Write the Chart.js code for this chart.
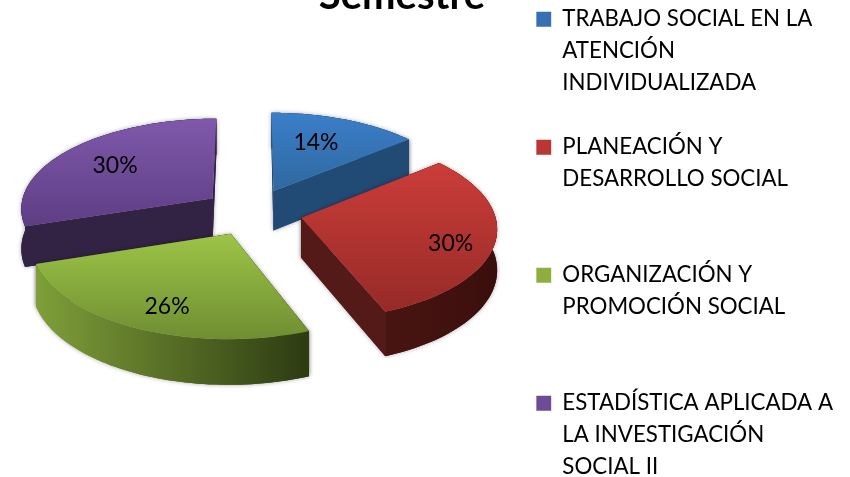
<!DOCTYPE html>
<html><head><meta charset="utf-8">
<style>html,body{margin:0;padding:0;width:850px;height:477px;overflow:hidden;background:#fff}
#wrap{position:absolute;left:-39px;top:-28px;width:889px;height:570px}</style>
<script src="https://cdn.jsdelivr.net/npm/chart.js@4"></script></head>
<body><div id="wrap"><canvas id="c" width="889" height="570"></canvas></div>
<script>
const titleText = 'Semestre';
const categories = ['TRABAJO SOCIAL EN LA ATENCIÓN INDIVIDUALIZADA','PLANEACIÓN Y DESARROLLO SOCIAL','ORGANIZACIÓN Y PROMOCIÓN SOCIAL','ESTADÍSTICA APLICADA A LA INVESTIGACIÓN SOCIAL II'];
const legendLines = [['TRABAJO SOCIAL EN LA','ATENCIÓN','INDIVIDUALIZADA',''],['PLANEACIÓN Y','DESARROLLO SOCIAL','',''],['ORGANIZACIÓN Y','PROMOCIÓN SOCIAL','',''],['ESTADÍSTICA APLICADA A','LA INVESTIGACIÓN','SOCIAL II','']];
const values = [14,30,26,30];
const percentLabels = ['14%','30%','26%','30%'];
const labelRadius = [0.65,0.79,0.77,0.67];
const labelTurn = [-3,6,-3,0];
const baseColors = ['#3670B2','#B93634','#8CAF3F','#6E4B96'];
const topGrad = [['#3B7EC9','#2F689F'],['#CB3D39','#962A27'],['#9DC447','#6F8E32'],['#8058AB','#5D3E84']];
const wallGrad = [['#214A75','#214A75'],['#541A17','#3A0E0C'],['#7F9F39','#2D3B12'],['#322244','#322244']];
const innerWall = ['#214A75','#541A17','#3A4A18','#322244'];
const drawOrder = [3,0,2,1];
const tilt = 0.468, persp = 0.1, depth = 40, shiftX = 4, shiftY = -63;

function project(cx, cy, R, U, V, z){
  const w = 1 - persp*V;
  return [cx + shiftX + R*U/w, cy + shiftY + R*tilt*V/w + z/w];
}
const pie3d = {
  id:'pie3d',
  beforeDatasetsDraw(chart){
    const ctx = chart.ctx, arcs = chart.getDatasetMeta(0).data;
    drawOrder.forEach(i=>{
      const a = arcs[i], R = a.outerRadius, e = a.options.offset/R;
      const mid = (a.startAngle+a.endAngle)/2;
      const ox = e*Math.cos(mid), oy = e*Math.sin(mid);
      const P = (f,ang,z)=>project(a.x,a.y,R,ox+f*Math.cos(ang),oy+f*Math.sin(ang),z);
      const n = 60, top=[], bot=[];
      for(let k=0;k<=n;k++){const t=a.startAngle+(a.endAngle-a.startAngle)*k/n; top.push(P(1,t,0)); bot.push(P(1,t,depth));}
      const apex=P(0,0,0), apexB=P(0,0,depth);
      const xs=top.concat([apex]).map(p=>p[0]), ys=top.concat([apex]).map(p=>p[1]);
      const wg=ctx.createLinearGradient(Math.min(...xs),0,Math.max(...xs),0);
      wg.addColorStop(0,wallGrad[i][0]); wg.addColorStop(1,wallGrad[i][1]);
      const walls=()=>{
        ctx.fillStyle=innerWall[i];
        [[top[0],bot[0]],[top[n],bot[n]]].forEach(([p,q])=>{
          ctx.beginPath(); ctx.moveTo(apex[0],apex[1]); ctx.lineTo(p[0],p[1]); ctx.lineTo(q[0],q[1]); ctx.lineTo(apexB[0],apexB[1]); ctx.closePath(); ctx.fill();
        });
        ctx.fillStyle=wg; ctx.beginPath();
        top.forEach((p,k)=>k?ctx.lineTo(p[0],p[1]):ctx.moveTo(p[0],p[1]));
        bot.slice().reverse().forEach(p=>ctx.lineTo(p[0],p[1]));
        ctx.closePath(); ctx.fill();
      };
      ctx.save();
      ctx.shadowColor='rgba(0,0,0,0.35)'; ctx.shadowBlur=4;
      walls();
      ctx.restore();
      walls();
      const tg=ctx.createLinearGradient(0,Math.min(...ys),0,Math.max(...ys));
      tg.addColorStop(0,topGrad[i][0]); tg.addColorStop(1,topGrad[i][1]);
      ctx.fillStyle=tg; ctx.beginPath(); ctx.moveTo(apex[0],apex[1]);
      top.forEach(p=>ctx.lineTo(p[0],p[1])); ctx.closePath(); ctx.fill();
    });
    ctx.save();
    ctx.fillStyle='#000'; ctx.font='23px Lato'; ctx.textAlign='center'; ctx.textBaseline='middle';
    arcs.forEach((a,i)=>{
      const R=a.outerRadius,e=a.options.offset/R,mid=(a.startAngle+a.endAngle)/2,f=labelRadius[i];
      const lab=mid+labelTurn[i]*Math.PI/180;
      const p=project(a.x,a.y,R,e*Math.cos(mid)+f*Math.cos(lab),e*Math.sin(mid)+f*Math.sin(lab),0);
      ctx.fillText(percentLabels[i],p[0],p[1]);
    });
    ctx.restore();
    return false;
  }
};
new Chart(document.getElementById('c'),{
  type:'pie',
  data:{labels:categories,datasets:[{data:values,backgroundColor:baseColors,borderWidth:0,offset:50,radius:193}]},
  plugins:[pie3d],
  options:{
    responsive:false,animation:false,
    layout:{padding:{left:0,right:7,top:0,bottom:0}},
    plugins:{
      tooltip:{enabled:false},
      title:{display:true,text:titleText,color:'#000',font:{family:'Lato',size:40,weight:'bold',lineHeight:1.2},padding:{top:0,bottom:-12}},
      legend:{position:'right',align:'start',fullSize:false,
        labels:{color:'#000',boxWidth:15,boxHeight:15,padding:0,font:{family:'Lato',size:22.3,lineHeight:32/22.3},
          generateLabels(chart){return legendLines.map((t,i)=>({text:t,fillStyle:baseColors[i],strokeStyle:baseColors[i],lineWidth:0,index:i,hidden:false}));}}
      }
    }
  }
});
</script></body></html>
